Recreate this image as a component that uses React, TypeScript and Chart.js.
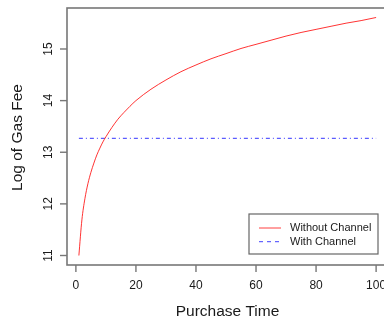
import React, { useEffect, useRef } from "react";
import { Chart, registerables } from "chart.js";

Chart.register(...registerables);

const purchaseTime = [1, 2, 3, 4, 5, 6, 7, 8, 9, 10, 12, 14, 16, 18, 20, 25, 30, 35, 40, 45, 50, 55, 60, 65, 70, 75, 80, 85, 90, 95, 100];
const withoutChannel = [11.0, 11.69, 12.1, 12.39, 12.61, 12.79, 12.95, 13.08, 13.2, 13.3, 13.48, 13.64, 13.77, 13.89, 14.0, 14.22, 14.4, 14.56, 14.69, 14.81, 14.91, 15.01, 15.09, 15.17, 15.25, 15.32, 15.38, 15.44, 15.5, 15.55, 15.61];
const channelTime = [1, 100];
const withChannel = [13.27, 13.27];
const xTicks = [0, 20, 40, 60, 80, 100];
const yTicks = [11, 12, 13, 14, 15];
const seriesLabels = ["Without Channel", "With Channel"];
const xTitle = "Purchase Time";
const yTitle = "Log of Gas Fee";

const FONT = "'Liberation Sans', Arial, Helvetica, sans-serif";
const TEXT = "#1a1a1a";
const AXIS = "#777";

const rAxesPlugin = {
  id: "rAxes",
  afterDraw(chart: any) {
    const { ctx, chartArea: a, scales } = chart;
    const xs = scales.x;
    const ys = scales.y;
    ctx.save();
    // box
    ctx.strokeStyle = AXIS;
    ctx.lineWidth = 1.6;
    ctx.strokeRect(a.left, a.top, a.right - a.left, a.bottom - a.top);
    // x ticks
    ctx.fillStyle = TEXT;
    ctx.font = `12px ${FONT}`;
    ctx.textAlign = "center";
    ctx.textBaseline = "middle";
    ctx.lineWidth = 1.4;
    for (const t of xTicks) {
      const px = xs.getPixelForValue(t);
      ctx.beginPath();
      ctx.moveTo(px, a.bottom);
      ctx.lineTo(px, a.bottom + 7);
      ctx.stroke();
      ctx.fillText(String(t), px, a.bottom + 21);
    }
    // y ticks
    for (const t of yTicks) {
      const py = ys.getPixelForValue(t);
      ctx.beginPath();
      ctx.moveTo(a.left, py);
      ctx.lineTo(a.left - 7, py);
      ctx.stroke();
      ctx.save();
      ctx.translate(a.left - 18.5, py);
      ctx.rotate(-Math.PI / 2);
      ctx.fillText(String(t), 0, 0);
      ctx.restore();
    }
    // titles
    ctx.font = `15.5px ${FONT}`;
    ctx.fillText(xTitle, (a.left + a.right) / 2, a.bottom + 47);
    ctx.save();
    ctx.translate(18, (a.top + a.bottom) / 2 + 1);
    ctx.rotate(-Math.PI / 2);
    ctx.fillText(yTitle, 0, 0);
    ctx.restore();
    // legend
    const lr = a.right - 10;
    const lb = a.bottom - 11;
    const lw = 129;
    const lh = 40;
    const lx = lr - lw;
    const ly = lb - lh;
    ctx.fillStyle = "#fff";
    ctx.fillRect(lx, ly, lw, lh);
    ctx.strokeStyle = "#666";
    ctx.lineWidth = 1.2;
    ctx.strokeRect(lx, ly, lw, lh);
    const rows = [
      { label: seriesLabels[0], color: "#ff0000", dash: [] as number[] },
      { label: seriesLabels[1], color: "#0000ff", dash: [4, 4] },
    ];
    ctx.font = `11px ${FONT}`;
    ctx.textAlign = "left";
    rows.forEach((r, i) => {
      const y = ly + 14 + i * 13.7;
      ctx.strokeStyle = r.color;
      ctx.globalAlpha = 0.75;
      ctx.lineWidth = 1;
      ctx.setLineDash(r.dash);
      ctx.beginPath();
      ctx.moveTo(lx + 10, y);
      ctx.lineTo(lx + 32, y);
      ctx.stroke();
      ctx.setLineDash([]);
      ctx.globalAlpha = 1;
      ctx.fillStyle = TEXT;
      ctx.fillText(r.label, lx + 41, y);
    });
    ctx.restore();
  },
};

export default function App() {
  const ref = useRef<HTMLCanvasElement | null>(null);
  useEffect(() => {
    document.body.style.margin = "0";
    const canvas = ref.current;
    if (!canvas) return;
    const chart = new Chart(canvas, {
      type: "line",
      data: {
        datasets: [
          {
            label: seriesLabels[0],
            data: purchaseTime.map((x, i) => ({ x, y: withoutChannel[i] })),
            borderColor: "rgba(255,0,0,0.8)",
            borderWidth: 1,
            pointRadius: 0,
            cubicInterpolationMode: "monotone",
            fill: false,
          },
          {
            label: seriesLabels[1],
            data: channelTime.map((x, i) => ({ x, y: withChannel[i] })),
            borderColor: "rgba(0,0,255,0.8)",
            borderWidth: 1,
            borderDash: [4, 3, 1, 3],
            pointRadius: 0,
            fill: false,
          },
        ],
      },
      options: {
        responsive: false,
        animation: false,
        devicePixelRatio: 1,
        layout: { padding: { left: 67, right: 12, top: 8, bottom: 55 } },
        plugins: { legend: { display: false }, tooltip: { enabled: false } },
        scales: {
          x: { type: "linear", min: -2.96, max: 103.96, display: false },
          y: { type: "linear", min: 10.816, max: 15.794, display: false },
        },
      },
      plugins: [rAxesPlugin],
    });
    return () => chart.destroy();
  }, []);
  return (
    <div style={{ position: "fixed", left: 0, top: 0, width: 384, height: 320, overflow: "hidden", background: "#fff" }}>
      <canvas ref={ref} width={400} height={320} style={{ display: "block" }} />
    </div>
  );
}
